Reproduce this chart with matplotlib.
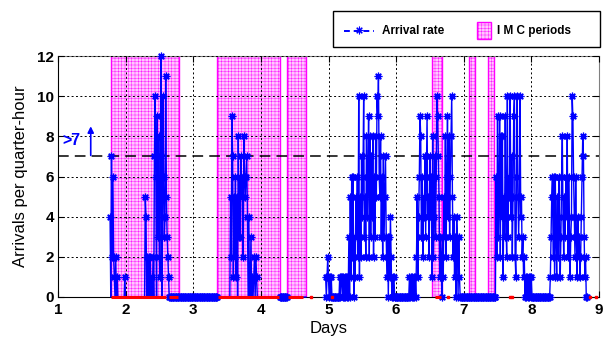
import numpy as np
import matplotlib
matplotlib.use('Agg')
import matplotlib.pyplot as plt
from matplotlib.lines import Line2D
from matplotlib.patches import Rectangle

plt.rcParams['font.family'] = ['Liberation Sans', 'DejaVu Sans']
plt.rcParams['font.weight'] = 'bold'
plt.rcParams['hatch.linewidth'] = 0.3

# ---------------- data ----------------
STEP = 1 / 96          # one quarter-hour, in days
T0, T1 = 1.77, 8.82     # first / last sample (days)

# arrival bursts: start day + arrivals per quarter-hour
burst_a1_start = 1.77
burst_a1 = [4, 0, 7, 2, 6, 2, 1, 0, 2, 0, 1, 0, 0, 0, 0, 0, 0, 0, 0, 0, 0, 1, 0]
burst_a2_start = 2.28
burst_a2 = [0, 5, 4, 0, 2, 0, 2, 0, 2, 0, 1, 0, 2, 0, 7, 10, 6, 0, 9, 3, 8, 2, 1, 12,
            7, 0, 10, 6, 3, 4, 11, 5, 3, 2, 1, 0]
burst_b_start = 3.54
burst_b = [0, 5, 2, 9, 7, 1, 5, 2, 6, 1, 5, 0, 8, 3, 6, 3, 7, 5, 6, 2, 8, 6, 5, 6, 7, 4,
           0, 4, 0, 0, 3, 0, 1, 0, 1, 2, 0, 2, 1, 0]
burst_c1_start = 4.96
burst_c1 = [1, 0, 1, 2, 1, 0, 1, 0, 1, 0, 0, 0, 0, 0, 0, 0, 0, 0, 0, 0, 1, 0, 1, 1, 0,
            1, 0, 1, 0, 1, 0, 1, 0]
burst_c2_start = 5.30
burst_c2 = [3, 0, 5, 1, 6, 2, 6, 0, 3, 1, 5, 3, 6, 2, 10, 1, 5, 2, 7, 4, 6, 10, 3, 5, 2,
            8, 4, 6, 9, 2, 8, 3, 7, 4, 8, 2, 6, 3, 8, 5, 10, 9, 11, 6, 5, 8, 3, 6, 2, 7,
            3, 5, 7, 3, 1, 3, 0, 3, 1, 4, 2, 0, 1, 0, 1, 0]
burst_d_start = 6.20
burst_d = [1, 0, 1, 0, 1, 0, 1, 0, 1, 0, 2, 5, 1, 4, 6, 9, 8, 3, 6, 2, 5, 4, 7, 3, 6, 9,
           4, 5, 2, 7, 4, 6, 1, 8, 2, 4, 7, 3, 6, 10, 9, 7, 5, 1, 3, 2, 0, 3, 1, 5, 3, 8,
           2, 6, 9, 4, 8, 3, 6, 8, 10, 5, 2, 4, 1, 3, 0, 4, 3, 0, 3, 1, 0]
burst_e_start = 7.47
burst_e = [0, 6, 2, 9, 3, 5, 9, 2, 8, 4, 8, 1, 5, 3, 9, 4, 2, 10, 3, 6, 5, 10, 4, 7, 2,
           5, 9, 10, 2, 1, 6, 10, 5, 3, 5, 10, 4, 5, 2, 3, 1, 2, 0, 1, 0, 1, 0, 1, 0, 1,
           0, 1, 0]
burst_f_start = 8.28
burst_f = [1, 3, 5, 6, 2, 6, 1, 6, 3, 1, 5, 2, 6, 4, 1, 3, 6, 8, 4, 2, 5, 3, 6, 4, 8, 2,
           6, 4, 1, 3, 4, 10, 9, 6, 4, 2, 6, 3, 1, 4, 2, 3, 1, 2, 4, 6, 8, 7, 3, 1, 2, 0]

# stretches where the recorded arrival count is zero
zero_spans = [(1.77, 4.67), (4.96, 8.82)]
# zero samples drawn without markers (inside IMC periods)
unmarked_spans = [(1.76, 2.62), (3.36, 4.28), (4.39, 4.67)]

# IMC periods (shaded) and IMC flags drawn in red on the zero line
imc_periods = [(1.78, 2.785), (3.35, 4.28), (4.38, 4.67), (6.53, 6.68),
               (7.08, 7.17), (7.36, 7.45)]
imc_red_segments = [(1.78, 2.60), (2.64, 2.77), (3.37, 4.27), (4.40, 4.62), (6.57, 6.66)]
imc_red_points = [4.74, 5.05, 6.76, 7.69, 7.72, 8.86, 8.95]

threshold = 7
x_ticks = [1, 2, 3, 4, 5, 6, 7, 8, 9]
y_ticks = [0, 2, 4, 6, 8, 10, 12]

# ---------------- build series ----------------
N = int(round((T1 - T0) / STEP)) + 1
t = T0 + np.arange(N) * STEP
v = np.full(N, np.nan)
for a, b in zero_spans:
    ia, ib = int(round((a - T0) / STEP)), int(round((b - T0) / STEP))
    v[ia:ib + 1] = 0
for start, vals in [(burst_a1_start, burst_a1), (burst_a2_start, burst_a2),
                    (burst_b_start, burst_b), (burst_c1_start, burst_c1),
                    (burst_c2_start, burst_c2), (burst_d_start, burst_d),
                    (burst_e_start, burst_e), (burst_f_start, burst_f)]:
    i0 = int(round((start - T0) / STEP))
    v[i0:i0 + len(vals)] = vals

mark = ~np.isnan(v)
for a, b in unmarked_spans:
    mark &= ~((t >= a) & (t <= b) & (v == 0))

# ---------------- figure ----------------
fig = plt.figure(figsize=(6.03, 3.41), dpi=100)
ax = fig.add_axes([58 / 603, 44 / 341, 541 / 603, 241 / 341])

PINK = '#ffc8ff'
for a, b in imc_periods:
    ax.axvspan(a, b, facecolor=PINK, edgecolor='magenta', hatch='+++++', lw=1, zorder=0.5)

ax.set_axisbelow(False)
ax.grid(True, color='black', ls=(0, (2, 2.5)), lw=0.7, zorder=1)

ax.axhline(threshold, color='black', lw=1.1, ls=(0, (7, 4)), zorder=2.6)

ast = (8, 2, 0)
ax.plot(t, v, color='blue', lw=1.0, marker=ast, ms=5.5, mew=0.9,
        markevery=mark, clip_on=False, zorder=3)

for a, b in imc_red_segments:
    ax.plot([a, b], [0, 0], color='red', lw=2.2, solid_capstyle='butt',
            clip_on=False, zorder=4)
ax.plot(imc_red_points, [0] * len(imc_red_points), 's', color='red', ms=2,
        clip_on=False, zorder=4)

ax.text(1.2, 7.8, '>7', color='blue', fontsize=11.5, ha='center', va='center')
ax.annotate('', xy=(1.484, 8.5), xytext=(1.484, 7.05),
            arrowprops=dict(arrowstyle='-|>', color='blue', lw=1.2,
                            mutation_scale=9, shrinkA=0, shrinkB=0))

ax.set_xlim(1, 9)
ax.set_ylim(0, 12)
ax.set_xticks(x_ticks)
ax.set_yticks(y_ticks)
ax.tick_params(direction='in', length=4, width=0.8, labelsize=11,
               top=True, right=True)
ax.tick_params(axis='x', pad=4.5)
ax.tick_params(axis='y', pad=3)
for s in ['left', 'bottom']:
    ax.spines[s].set_color('black')
for s in ['top', 'right']:
    ax.spines[s].set_color('#808080')

ax.set_ylabel('Arrivals per quarter-hour', fontsize=12)
ax.yaxis.set_label_coords(-0.055, 0.5)
ax.set_xlabel('Days', fontsize=12)
ax.xaxis.set_label_coords(0.5, -0.098)

# ---------------- legend (drawn in figure pixels) ----------------
W, H = 603, 341
def fx(x): return x / W
def fy(y): return 1 - y / H

fig.add_artist(Rectangle((fx(333), fy(47)), (600 - 333) / W, 36 / H,
                         transform=fig.transFigure, facecolor='white',
                         edgecolor='black', lw=1, zorder=5))
fig.add_artist(Line2D([fx(344), fx(374)], [fy(31), fy(31)], transform=fig.transFigure,
                      color='blue', lw=1.4, ls=(0, (3, 2)), zorder=6))
fig.add_artist(Line2D([fx(359)], [fy(30)], transform=fig.transFigure, color='blue',
                      marker=ast, ms=5.5, mew=0.8, ls='none', zorder=6))
fig.text(fx(382), fy(31), 'Arrival rate', fontsize=8.5, va='center', ha='left', zorder=6)
fig.add_artist(Rectangle((fx(477), fy(39)), 14 / W, 17 / H, transform=fig.transFigure,
                         facecolor=PINK, edgecolor='magenta', hatch='+++++', lw=1,
                         zorder=6))
fig.text(fx(497), fy(31), 'I M C periods', fontsize=8.5, va='center', ha='left', zorder=6)

fig.savefig('out.png', dpi=100)
